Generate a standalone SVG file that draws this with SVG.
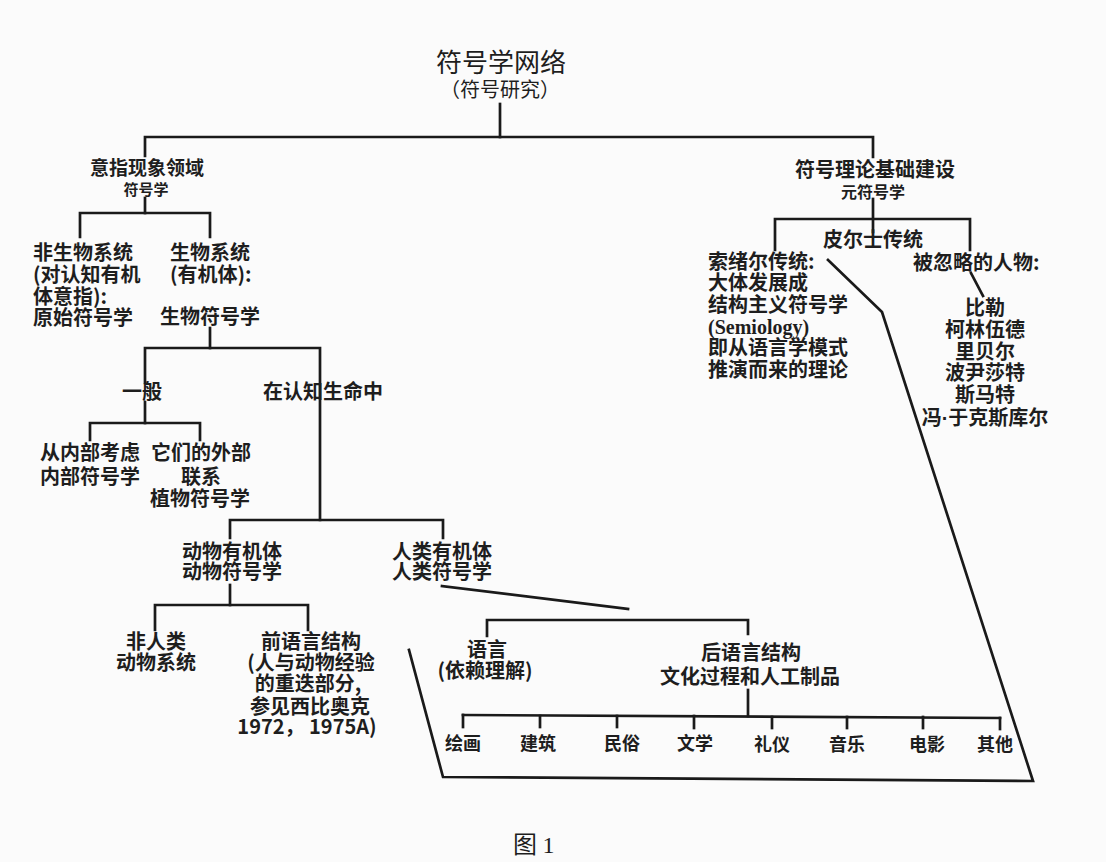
<svg xmlns="http://www.w3.org/2000/svg" width="1106" height="862" viewBox="0 0 1106 862">
<style>
text{font-family:"Noto Sans CJK SC","Liberation Sans",sans-serif;fill:#1e1e1e;font-size:20px;font-weight:bold}
.c{text-anchor:middle}
.n{font-weight:normal}
.s16{font-size:16px}
.s18{font-size:18px}
.ser{font-family:"Liberation Serif","Noto Sans CJK SC",serif;font-weight:bold}
.dot{font-family:"Liberation Sans",sans-serif}
#connectors line,#connectors polyline{stroke:#1a1a1a;stroke-width:2.7;fill:none;stroke-linecap:square;stroke-linejoin:miter}
</style>
<rect width="1106" height="862" fill="#fbfbfb"/>
<g id="connectors">
<line x1="500" y1="104" x2="500" y2="137"/>
<polyline points="145,156 145,137 873,137 873,157"/>
<line x1="145" y1="198" x2="145" y2="213"/>
<polyline points="80,237 80,213 210,213 210,237"/>
<line x1="210" y1="328" x2="210" y2="348"/>
<polyline points="145,383 145,348 320,348 320,520"/>
<line x1="145" y1="402" x2="145" y2="423"/>
<polyline points="90,440 90,423 200,423 200,440"/>
<polyline points="230,538 230,520 443,520 443,538"/>
<line x1="230" y1="585" x2="230" y2="605"/>
<polyline points="155,630 155,605 308,605 308,630"/>
<line x1="442" y1="586" x2="628" y2="609"/>
<polyline points="487,636 487,620 748,620 748,634"/>
<line x1="748" y1="690" x2="748" y2="716"/>
<line x1="463" y1="715" x2="1000" y2="718"/>
<line x1="463" y1="715" x2="463" y2="727"/>
<line x1="540" y1="716" x2="540" y2="727"/>
<line x1="617" y1="716" x2="617" y2="727"/>
<line x1="694" y1="716" x2="694" y2="728"/>
<line x1="772" y1="717" x2="772" y2="728"/>
<line x1="847" y1="717" x2="847" y2="728"/>
<line x1="923" y1="717" x2="923" y2="728"/>
<line x1="1000" y1="718" x2="1000" y2="729"/>
<line x1="873" y1="199" x2="873" y2="232"/>
<polyline points="775,250 775,219 970,219 970,250"/>
<line x1="971" y1="273" x2="983" y2="296"/>
<polyline points="828,260 882,312 1033,781 443,777 409,650"/>
</g>
<g id="root"><text class="c n" x="501" y="72" style="font-size:26px"><tspan x="501">符号学网络</tspan><tspan x="500" dy="25" style="font-size:20px">（符号研究）</tspan></text></g>
<g id="yizhi"><text class="c" x="147" y="175" style="font-size:19px"><tspan x="147">意指现象领域</tspan><tspan x="146" dy="20" style="font-size:15px">符号学</tspan></text></g>
<g id="feishengwu"><text x="33" y="260"><tspan x="33">非生物系统</tspan><tspan x="33" dy="22">(对认知有机</tspan><tspan x="33" dy="22">体意指):</tspan><tspan x="33" dy="21">原始符号学</tspan></text></g>
<g id="shengwu"><text x="170" y="260"><tspan x="170">生物系统</tspan><tspan x="170" dy="22">(有机体):</tspan><tspan x="160" dy="42">生物符号学</tspan></text></g>
<g id="yiban"><text class="c" x="142" y="399">一般</text></g>
<g id="renzhi"><text class="c" x="323" y="399">在认知生命中</text></g>
<g id="neibu"><text class="c" x="90" y="460"><tspan x="90">从内部考虑</tspan><tspan x="90" dy="24">内部符号学</tspan></text></g>
<g id="waibu"><text class="c" x="201" y="460"><tspan x="201">它们的外部</tspan><tspan x="201" dy="24">联系</tspan><tspan x="200" dy="22">植物符号学</tspan></text></g>
<g id="dongwu"><text class="c" x="232" y="559"><tspan x="232">动物有机体</tspan><tspan x="232" dy="20">动物符号学</tspan></text></g>
<g id="renlei"><text class="c" x="442" y="559"><tspan x="442">人类有机体</tspan><tspan x="442" dy="20">人类符号学</tspan></text></g>
<g id="feirenlei"><text class="c" x="156" y="649"><tspan x="156">非人类</tspan><tspan x="156" dy="21">动物系统</tspan></text></g>
<g id="qianyuyan"><text class="c" x="311" y="649"><tspan x="311">前语言结构</tspan><tspan x="311" dy="21">(人与动物经验</tspan><tspan x="308" dy="21">的重迭部分,</tspan><tspan x="310" dy="23">参见西比奥克</tspan><tspan x="307" dy="20">1972， 1975A)</tspan></text></g>
<g id="yuyan"><text class="c" x="487" y="657"><tspan x="487">语言</tspan><tspan x="485" dy="21">(依赖理解)</tspan></text></g>
<g id="houyuyan"><text class="c" x="751" y="660"><tspan x="751">后语言结构</tspan><tspan x="750" dy="24">文化过程和人工制品</tspan></text></g>
<g id="huihua"><text class="c s18" x="463" y="750">绘画</text></g>
<g id="jianzhu"><text class="c s18" x="538" y="750">建筑</text></g>
<g id="minsu"><text class="c s18" x="622" y="750">民俗</text></g>
<g id="wenxue"><text class="c s18" x="695" y="750">文学</text></g>
<g id="liyi"><text class="c s18" x="772" y="751">礼仪</text></g>
<g id="yinyue"><text class="c s18" x="847" y="751">音乐</text></g>
<g id="dianying"><text class="c s18" x="927" y="751">电影</text></g>
<g id="qita"><text class="c s18" x="995" y="751">其他</text></g>
<g id="fuhaolilun"><text class="c" x="875" y="177"><tspan x="875">符号理论基础建设</tspan><tspan x="873" dy="21" class="s16">元符号学</tspan></text></g>
<g id="pierce"><text class="c" x="873" y="247">皮尔士传统</text></g>
<g id="saussure"><text x="708" y="269"><tspan x="708">索绪尔传统:</tspan><tspan x="708" dy="21">大体发展成</tspan><tspan x="708" dy="22">结构主义符号学</tspan><tspan x="708" dy="22" class="ser">(Semiology)</tspan><tspan x="708" dy="21">即从语言学模式</tspan><tspan x="708" dy="22">推演而来的理论</tspan></text></g>
<g id="hulue"><text x="913" y="270">被忽略的人物:</text><text class="c" x="985" y="315"><tspan x="985">比勒</tspan><tspan x="985" dy="22">柯林伍德</tspan><tspan x="985" dy="22">里贝尔</tspan><tspan x="985" dy="21">波尹莎特</tspan><tspan x="985" dy="22">斯马特</tspan><tspan x="985" dy="23">冯<tspan class="dot">·</tspan>于克斯库尔</tspan></text></g>
<g id="caption"><text class="n" x="513" y="853" style="font-size:24px">图 <tspan class="ser" style="font-weight:normal">1</tspan></text></g>
</svg>
